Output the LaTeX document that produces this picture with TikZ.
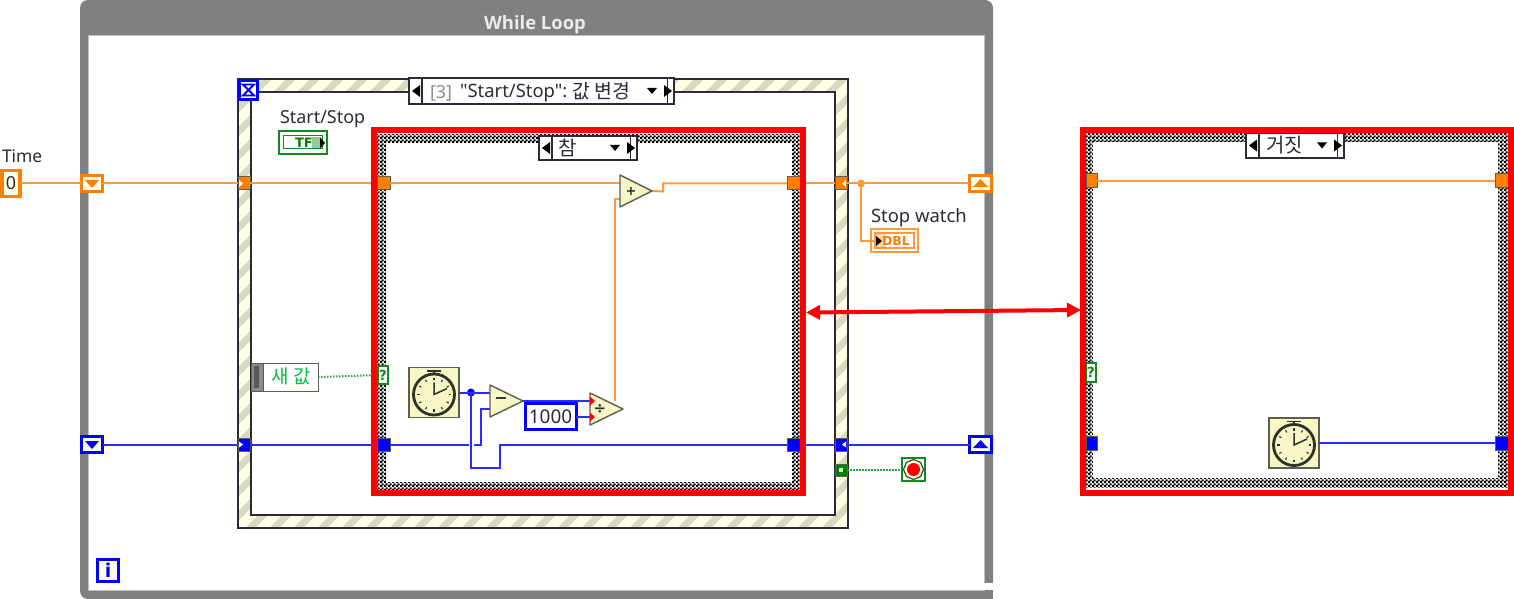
\documentclass[tikz,border=0pt]{standalone}
\usepackage{fontspec}
\setmainfont{Noto Sans}
\newfontfamily\plainf{Noto Sans}
\newfontfamily\kr{Noto Sans CJK KR}
\newfontfamily\ob{Open Sans}
\newfontfamily\djv{DejaVu Sans}
\usetikzlibrary{arrows.meta,patterns,shapes.geometric}
\pgfdeclarepatternformonly{chk}{\pgfqpoint{0bp}{0bp}}{\pgfqpoint{4bp}{4bp}}{\pgfqpoint{4bp}{4bp}}{%
 \pgfpathrectangle{\pgfqpoint{0bp}{0bp}}{\pgfqpoint{2.5bp}{2.5bp}}%
 \pgfpathrectangle{\pgfqpoint{2bp}{2bp}}{\pgfqpoint{2.5bp}{2.5bp}}%
 \pgfusepath{fill}}
\definecolor{ink}{HTML}{2A2A3A}
\definecolor{ogr}{HTML}{FF8000}
\definecolor{owr}{HTML}{FF9A3C}
\definecolor{bwr}{HTML}{2A2AFF}
\definecolor{grn}{HTML}{108A20}
\definecolor{cream}{HTML}{FFFFE6}
\definecolor{stripe}{HTML}{DADAC2}
\definecolor{prim}{HTML}{F6F6C6}
\definecolor{edge}{HTML}{5E5E50}
\definecolor{loopgray}{HTML}{808080}
\newcommand\fs[1]{\fontsize{#1}{#1}\selectfont}
% [style]{x1}{y1}{x2}{y2}{name}{text}
\newcommand\bx[7][]{\node[rect,#1,minimum width={(#4-#2)*1bp},minimum height={(#5-#3)*1bp}] (#6) at ({(#2+#4)/2},{(#3+#5)/2}) {#7};}
% structure selector: {x1}{y1}{x2}{y2}{name}
\newcommand\selector[5]{%
 \bx[selbox]{#1}{#2}{#3}{#4}{#5}{}
 \bx[selbox]{#1}{#2}{#1+13}{#4}{#5L}{}
 \bx[selbox]{#3-13}{#2}{#3}{#4}{#5R}{}
 \begin{scope}[shift={(#1,{(#2+#4)/2})}]
  \fill[black] (3,0)--(11,-6)--(11,6)--cycle;
 \end{scope}
 \begin{scope}[shift={(#3,{(#2+#4)/2})}]
  \fill[black] (-2,0)--(-10,-6)--(-10,6)--cycle;
  \fill[black] (-27,-3)--(-17,-3)--(-22,3)--cycle;
 \end{scope}}
% clock: {x1}{y1}{name}
\newcommand\clockn[3]{%
 \bx[clockbox]{#1}{#2}{#1+50}{#2+50}{#3}{}
 \begin{scope}[shift={(#1+25,#2+27)}]
  \draw[clockink,line width=2.8bp] (0,0) circle (20.5);
  \draw[clockink,line width=1.5bp] (-7,-23.5)--(7,-23.5);
  \draw[clockink,line width=1.5bp] (0,-23.5)--(0,-21);
  \foreach \a in {0,30,...,330}{\draw[clockink,line width=1.1bp] (\a:14.5)--(\a:17);}
  \draw[clockink,line width=1.5bp] (0,-12)--(0,0)--(13,-6);
 \end{scope}}
\tikzset{
 rect/.style={shape=rectangle,inner sep=0pt,outer sep=0pt},
 selbox/.style={draw=ink,line width=1.4bp,fill=white},
 clockbox/.style={draw=edge,line width=1.2bp,fill=prim},
 clockink/.style={draw=black!80!prim},
 owire/.style={draw=owr,line width=2bp},
 bwire/.style={draw=bwr,line width=2bp},
 gwire/.style={draw=grn!85,line width=2bp,dash pattern=on 1.5bp off 1.5bp},
 srO/.style={draw=ogr,line width=3bp,fill=cream},
 srB/.style={draw=blue,line width=3bp,fill=cream},
 tunO/.style={draw=edge,line width=1bp,fill=ogr},
 tunB/.style={draw=edge,line width=1bp,fill=blue},
 prims/.style={draw=edge,line width=1.4bp,fill=prim,line join=round},
 txt/.style={inner sep=0pt,outer sep=0pt,text=ink,font=\fs{18}},
 chkframe/.style={pattern=chk,pattern color=black},
 redframe/.style={draw=red,line width=6bp},
 dot/.style={circle,inner sep=0pt,outer sep=0pt,minimum size=#1}
}
\begin{document}
\begin{tikzpicture}[x=1bp,y=-1bp]
\useasboundingbox (0,0) rectangle (1514,599);
% While loop frame
\bx[fill=loopgray,rounded corners=8bp]{80}{0}{993}{599}{loop}{}
\bx[fill=loopgray]{900}{590}{993}{599}{loopbr}{}
\bx[fill=white,draw=black!25,line width=0.8bp]{88}{35}{984}{590}{loopin}{}
\bx[fill=white]{984.4}{583}{993}{589.6}{loopgap}{}
\node[txt,text=white!92!black,font=\fs{18.5}\ob\bfseries] (looptitle) at (535,24.5) {While Loop};
% event structure frame
\bx[fill=cream]{238}{79}{848}{528}{ev}{}
\begin{scope}
 \clip (238,79) rectangle (848,528);
 \foreach \x in {-211,-187,...,848}{\fill[stripe] (\x,528)--(\x+10,528)--(\x+459,79)--(\x+449,79)--cycle;}
\end{scope}
\bx[draw=ink,line width=1.5bp]{238}{79}{848}{528}{evout}{}
\bx[draw=ink,line width=1.5bp,fill=white]{251}{92}{835}{515}{evin}{}
\selector{409}{78}{674}{104}{evsel}
\node[txt,text=black!45,anchor=west] (ev3) at (430,93) {[3]};
\node[txt,anchor=west,font=\fs{18.5}\plainf] (evname) at (460,93) {"Start/Stop":};
\node[txt,anchor=west,font=\fs{19.5}\kr] (evkr) at (572,91.5) {값 변경};
% hourglass
\bx[draw=blue,line width=3bp,fill=cream]{239.5}{80.5}{257.5}{99.5}{timeout}{}
\draw[blue,line width=1.8bp] (243,84.5)--(254,84.5)--(243,95.5)--(254,95.5)--cycle;
% True case frame
\bx[fill=white]{377}{133}{800}{490}{caseAbg}{}
\bx[chkframe]{377}{135}{800}{490}{caseAchk}{}
\bx[fill=white]{386}{143}{792}{482}{caseAin}{}
\selector{539}{136}{637}{160}{selA}
\node[txt,font=\fs{20}\kr,anchor=west] (selAt) at (558,148) {참};
% False case frame
\bx[fill=white]{1086}{133}{1508}{490}{caseBbg}{}
\bx[chkframe]{1086}{133}{1508}{487}{caseBchk}{}
\bx[fill=white]{1093}{142}{1498}{478}{caseBin}{}
\selector{1246}{133}{1344}{158}{selB}
\node[txt,font=\fs{20}\kr,anchor=west] (selBt) at (1266,145) {거짓};
% Shift registers, controls
\bx[draw=ogr,line width=3.4bp,fill=cream]{2}{170.5}{20}{196.5}{time}{\fs{18}\color{ink}0}
\node[txt,anchor=west,font=\fs{17.5}] (timel) at (2,156.5) {Time};
\bx[srO]{81.5}{175.5}{102.5}{191.5}{srOL}{}
\bx[srO]{969.5}{175.5}{991.5}{191.5}{srOR}{}
\bx[srB]{81.5}{436.5}{102.5}{452.5}{srBL}{}
\bx[srB]{969.5}{436.5}{991.5}{452.5}{srBR}{}
\fill[ogr] (85,180)--(99,180)--(92,188)--cycle;
\fill[ogr] (973,187)--(988,187)--(980.5,179)--cycle;
\fill[blue] (85,441)--(99,441)--(92,449)--cycle;
\fill[blue] (973,448)--(988,448)--(980.5,440)--cycle;
% Tunnels of event structure
\bx[tunO]{238}{177}{250}{190}{etOL}{}
\bx[tunO]{835}{177}{847}{190}{etOR}{}
\bx[tunB]{238}{438}{250}{451}{etBL}{}
\bx[tunB]{835}{438}{847}{451}{etBR}{}
\bx[draw=edge,line width=1bp,fill=green!50!black]{835}{464}{847}{476}{etG}{}
\bx[fill=white!80!green]{839}{468}{843}{472}{etGc}{}
% wires
\draw[owire] (time.east)--(srOL.west);
\draw[owire] (srOL.east)--(etOL.west);
\draw[owire] (etOR.east)--(srOR.west);
\draw[bwire] (srBL.east)--(etBL.west);
\draw[bwire] (etBR.east)--(srBR.west);
\coordinate (addIn1) at (620,183.5);
\coordinate (addIn2) at (620,199);
\coordinate (addOut) at (652,191);
\coordinate (subIn1) at (490,392.5);
\coordinate (subIn2) at (490,409);
\coordinate (subOut) at (523,401);
\coordinate (divIn1) at (590,401);
\coordinate (divIn2) at (590,417);
\coordinate (divTap) at (615,401);
\coordinate (addBend) at (663,191.5);
% tunnels in the True case
\bx[tunO]{377}{177}{390}{190}{aOL}{}
\bx[tunO]{787}{177}{800}{190}{aOR}{}
\bx[tunB]{377}{438}{390}{451}{aBL}{}
\bx[tunB]{787}{438}{800}{451}{aBR}{}
\draw[owire] (etOL.east)--(aOL.west);
\draw[owire] (aOR.east)--(etOR.west);
\draw[bwire] (etBL.east)--(aBL.west);
\draw[bwire] (aBR.east)--(etBR.west);
\draw[owire] (aOL.east)--(addIn1);
\draw[owire] (addOut)--(addBend)--(addBend|-aOR.west)--(aOR.west);
\draw[owire] (divTap)--(divTap|-addIn2)--(addIn2);
% True case wires, blue
\clockn{409}{367.5}{clockA}
\node[dot=8bp,fill=blue] (jA) at (471,392.5) {};
\coordinate (gapL) at (469,444.5);
\coordinate (gapR) at (473.5,444.5);
\coordinate (loopB) at (500,468);
\draw[bwire] (clockA.east)--(subIn1);
\draw[bwire] (aBL.east)--(gapL);
\draw[bwire] (gapR)--(481,444.5)--(481,409)--(subIn2);
\draw[bwire] (jA.center)|-(loopB)--(loopB|-aBR.west)--(aBR.west);
\draw[bwire] (subOut)--(divIn1);
\bx[draw=blue,line width=3bp,fill=white]{525}{403.5}{576}{429.5}{const}{\fs{19}\color{ink}1000}
\draw[bwire] (const.east|-divIn2)--(divIn2);
% primitives
\draw[prims] (490,385)--(523,401)--(490,417)--cycle;
\node[txt,font=\fs{16}\djv\bfseries] (minus) at (501,400.5) {−};
\draw[prims] (590,393)--(623,409)--(590,425)--cycle;
\node[txt,font=\fs{15}\djv\bfseries] (divs) at (600,409) {÷};
\fill[red] (590,396.5)--(595,401)--(590,405.5)--cycle;
\fill[red] (590,412.5)--(595,417)--(590,421.5)--cycle;
\draw[prims] (620,175)--(652,191)--(620,207)--cycle;
\node[txt,font=\fs{13}\djv\bfseries] (plus) at (631,191) {+};
% False case wires
\bx[tunO]{1086}{174}{1097}{188}{bOL}{}
\bx[tunO]{1495}{174}{1508}{188}{bOR}{}
\bx[tunB]{1086}{436}{1097}{450}{bBL}{}
\bx[tunB]{1495}{436}{1508}{450}{bBR}{}
\draw[owire] (bOL.east)--(bOR.west);
\clockn{1269}{418}{clockB}
\draw[bwire] (clockB.east)--(bBR.west);
% selector terminals
\bx[draw=edge,line width=1bp,fill=white]{251}{363}{318}{391}{newval}{}
\bx[draw=edge,line width=1bp,fill=black!45]{251}{363}{263}{391}{newh}{}
\bx[fill=black!65]{254}{366}{259}{388}{newhc}{}
\node[txt,font=\fs{19}\kr,text=green!50!teal] (newt) at (291,376) {새\hspace{5bp}값};
\bx[draw=grn,line width=1.5bp,fill=white]{378}{366}{388}{384}{qA}{\fs{14}\djv\bfseries\color{grn}?}
\bx[draw=grn,line width=1.5bp,fill=white]{1086}{363}{1096}{382}{qB}{\fs{14}\djv\bfseries\color{grn}?}
\draw[gwire] (newval.east)--(qA.west);
% Start/Stop
\node[txt,anchor=west] (ssl) at (280,119) {Start/Stop};
\bx[draw=grn,line width=2.4bp,fill=white]{279}{131}{327}{154}{tf}{}
\bx[draw=grn,line width=1bp,fill=white]{283}{136}{322}{149}{tfin}{}
\bx[fill=grn!45]{312}{137}{321.5}{148.5}{tfs}{}
\node[txt,font=\fs{13}\djv\bfseries,text=green!50!black] (tft) at (304,143) {TF};
\fill[black] (325,143)--(320,137.5)--(320,148.5)--cycle;
% Stop watch
\node[txt,anchor=west,font=\fs{18.5}] (swl) at (871,217.5) {Stop watch};
\bx[draw=owr,line width=1.6bp,fill=white]{871}{229}{918}{252}{dbl}{}
\bx[draw=owr,line width=1.2bp,fill=white]{875}{233}{914}{248}{dblin}{}
\bx[fill=ogr!35]{876}{234}{886}{247}{dbls}{}
\node[txt,font=\fs{12.5}\djv\bfseries,text=ogr] (dblt) at (896,241) {DBL};
\fill[black] (882,241)--(876,236)--(876,246)--cycle;
\node[dot=8bp,fill=owr] (jO) at (861,183.5) {};
\draw[owire] (jO.center)|-(dblin.west);
% stop terminal
\bx[draw=grn,line width=2.2bp,fill=cream]{902}{458}{925}{481}{stop}{}
\node[regular polygon,regular polygon sides=8,shape border rotate=22.5,draw=black!75,fill=cream,line width=1.2bp,minimum size=20bp,inner sep=0pt] (stopc) at (913.5,469.5) {};
\node[dot=13bp,fill=red] (stopr) at (913.5,469.5) {};
\draw[gwire] (etG.east)--(stop.west|-etG.east);
% iteration
\bx[draw=blue,line width=3bp,fill=cream]{97.5}{559.5}{118.5}{581.5}{iter}{\fs{19}\djv\bfseries\color{blue}i}
% pointers on tunnels
\fill[white] (239,180)--(243,183.5)--(239,187)--cycle;
\fill[white] (846,180)--(842,183.5)--(846,187)--cycle;
\fill[white] (239,441.5)--(243,444.5)--(239,447.5)--cycle;
\fill[white] (846,441.5)--(842,444.5)--(846,447.5)--cycle;
% red highlight frames
\bx[redframe]{374}{130}{803}{492.5}{redA}{}
\bx[redframe]{1083}{130}{1511}{492.5}{redB}{}
\coordinate (arrL) at (806,312.5);
\coordinate (arrR) at (1081,310);
\draw[red,line width=4bp,{Triangle[length=14bp,width=14bp]}-{Triangle[length=14bp,width=14bp]}] (arrL)--(arrR);
\end{tikzpicture}
\end{document}
